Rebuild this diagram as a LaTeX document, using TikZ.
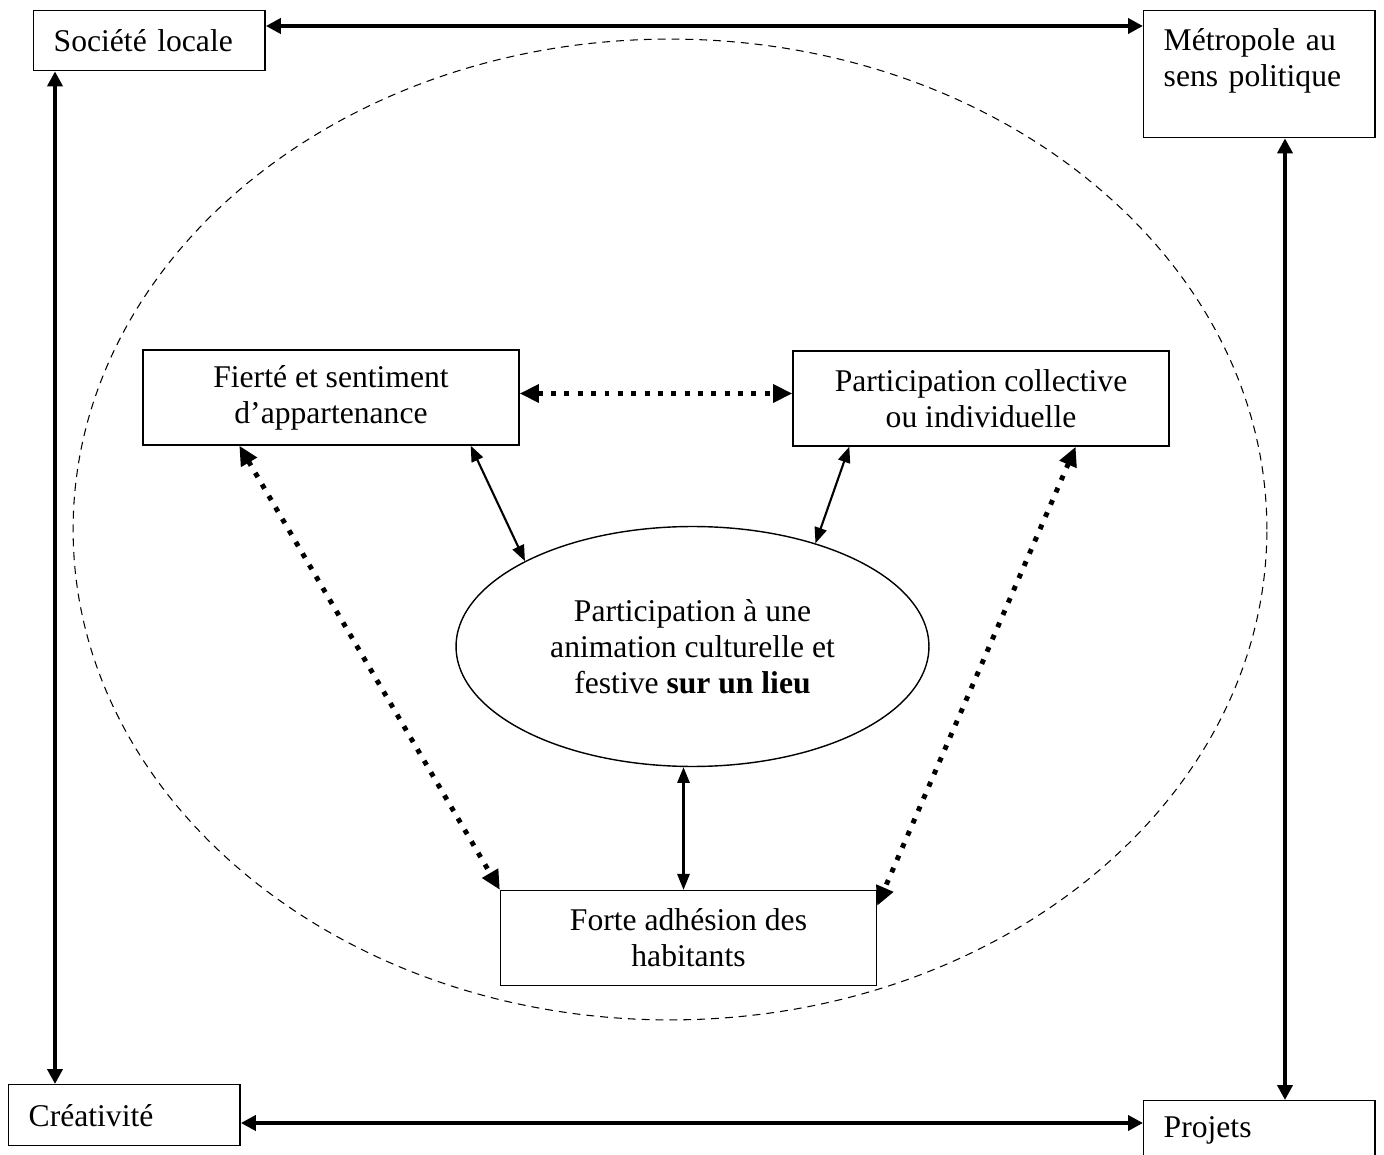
\documentclass[tikz,border=0pt]{standalone}
\usepackage{fontspec}
\setmainfont{Liberation Serif}
\usepackage{tikz}
\usetikzlibrary{shapes, arrows.meta, positioning, calc}

\begin{document}
\begin{tikzpicture}[x=0.02cm, y=-0.02cm,
  font=\fontsize{18}{20.5}\selectfont,
  box/.style={rectangle, draw, line width=0.8pt, minimum width=7.52cm,
              minimum height=1.9cm, align=center, inner sep=0pt},
  corner/.style={rectangle, draw, line width=0.8pt, anchor=north west,
                 minimum width=4.63cm, minimum height=1.2cm, text width=3.83cm,
                 inner xsep=0.4cm, align=left},
  bigarrow/.style={{Triangle[length=8.5pt,width=8.5pt]}-{Triangle[length=8.5pt,width=8.5pt]},
                   line width=2.3pt},
  thinarrow/.style={{Triangle[length=9pt,width=7pt]}-{Triangle[length=9pt,width=7pt]},
                    line width=1.2pt},
  dotarrow/.style={{Triangle[length=11pt,width=10pt]}-{Triangle[length=11pt,width=10pt]},
                   line width=2.8pt, dash pattern=on 2.8pt off 4.8pt}
]
\useasboundingbox (0,0) rectangle (1384,1155);

% zone en pointillés autour du schéma central
\node[ellipse, draw, line width=0.6pt, dash pattern=on 4.5pt off 3.4pt,
      minimum width=23.88cm, minimum height=19.62cm, inner sep=0pt] (zone) at (670,529.5) {};

\node[corner, minimum height=1.2cm] (societe) at (33,10) {Société locale};
\node[corner, inner ysep=0pt, minimum height=2.54cm] (metro) at (1143,10)
    {\parbox[c][2.54cm][t]{3.83cm}{\raggedright\vspace*{0.36cm}Métropole au\\sens politique}};
\node[corner, minimum height=1.22cm] (creat) at (8,1084) {Créativité};
\node[corner] (projets) at (1143,1100) {Projets};

\node[box] (fierte) at (331,397.5) {Fierté et sentiment\\d’appartenance};
\node[box] (partic) at (981,398.5) {Participation collective\\ou individuelle};
\node[ellipse, draw, line width=0.8pt, minimum width=9.46cm, minimum height=4.8cm,
      inner sep=0pt, align=center] (lieu) at (692.5,646.5)
    {Participation à une\\animation culturelle et\\festive \textbf{sur un lieu}};
\node[box] (adhesion) at (688.5,938) {Forte adhésion des\\habitants};

\draw[bigarrow] ($(societe.north east)+(0,16)$) -- ($(metro.north west)+(0,16)$);
\draw[bigarrow] ($(societe.south west)+(22,0)$) -- ($(creat.north west)+(47,0)$);
\draw[bigarrow] ($(metro.south west)+(142,0)$) -- ($(projets.north west)+(142,0)$);
\draw[bigarrow] ($(creat.north east)+(0,39)$) -- ($(projets.north west)+(0,23)$);

\draw[dotarrow] ($(fierte.east)+(0,-4)$) -- ($(partic.west)+(0,-5)$);
\draw[dotarrow] ($(fierte.south west)+(97,0)$) -- (adhesion.north west);
\draw[dotarrow] ($(partic.south east)+(-94,0)$) -- ($(adhesion.north east)+(0,16)$);

\draw[thinarrow] ($(fierte.south east)+(-49,0)$) -- (lieu.153);
\draw[thinarrow] ($(partic.south west)+(57,0)$) -- (lieu.40);
\draw[thinarrow] ($(lieu.south)+(-9,0)$) -- ($(adhesion.north)+(-5,0)$);
\end{tikzpicture}
\end{document}
